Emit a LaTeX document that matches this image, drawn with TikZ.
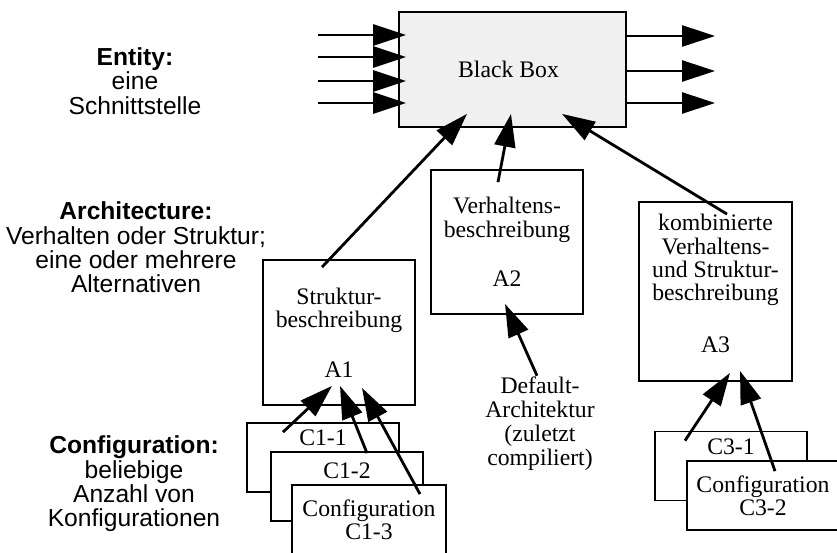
\documentclass[tikz,border=0pt]{standalone}
\usepackage{fontspec}
\setmainfont{Liberation Serif}
\setsansfont{Liberation Sans}
\usetikzlibrary{arrows.meta,calc}

\begin{document}
\begin{tikzpicture}[
  x=1bp, y=-1bp,
  box/.style={
    rectangle, draw, line width=1.8bp, fill=white,
    inner sep=0pt, align=center,
    font=\fontsize{23.8}{23.5}\selectfont},
  cfg/.style={box, minimum width=152bp, minimum height=69bp},
  cfgtop/.style={cfg, text height=16bp, text depth=#1},
  lbl/.style={align=center, font=\sffamily\fontsize{24.7}{24.5}\selectfont},
  arr/.style={line width=2.8bp, -{Triangle[length=33bp,width=21bp]}},
]
  \clip (0,0) rectangle (837,553);

  % left column
  \node[lbl] (ent)  at (135,81)    {\textbf{Entity:}\\eine\\Schnittstelle};
  \node[lbl] (arch) at (136,247.5) {\textbf{Architecture:}\\Verhalten oder Struktur;\\
                                    eine oder mehrere\\Alternativen};
  \node[lbl] (conf) at (134,484)   {\textbf{Configuration:}\\beliebige\\Anzahl von\\
                                    Konfigurationen};

  % entity
  \node[box, fill=black!6, minimum width=227bp, minimum height=115bp]
      (bb) at (512.5,69.5) {Black Box\hspace*{8bp}};

  % architectures
  \node[box, minimum width=152bp, minimum height=145bp] (A1) at (339,332.5)
      {Struktur-\\beschreibung\\[26bp]A1};
  \node[box, minimum width=152bp, minimum height=144bp] (A2) at (507,242)
      {Verhaltens-\\beschreibung\\[26bp]A2};
  \node[box, minimum width=153bp, minimum height=179bp] (A3) at (715.5,291.5)
      {kombinierte\\Verhaltens-\\und Struktur-\\beschreibung\\[28bp]A3\\[-7bp]\mbox{}};

  % configurations
  \node[cfgtop=41bp] (C11) at (323,457.5) {C1-1};
  \node[cfgtop=33bp] (C12) at (347,486.5) {C1-2};
  \node[cfg, minimum width=154bp] (C13) at (369,519.5) {Configuration\\C1-3};
  \node[cfgtop=40bp] (C31) at (731,466)   {C3-1};
  \node[cfg] (C32) at (763,495.5) {Configuration\\C3-2};

  \node[align=center, font=\fontsize{23.8}{24}\selectfont]
      (dflt) at (540,424) {Default-\\Architektur\\(zuletzt\\compiliert)};

  % ports
  \coordinate (in1)  at (318,35);
  \coordinate (in2)  at (318,57);
  \coordinate (in3)  at (318,81);
  \coordinate (in4)  at (318,103);
  \coordinate (out1) at (715,36);
  \coordinate (out2) at (715,71);
  \coordinate (out3) at (715,103);

  \draw[arr] (in1) -- ($(in1 -| bb.west)+(8,0)$);
  \draw[arr] (in2) -- ($(in2 -| bb.west)+(8,0)$);
  \draw[arr] (in3) -- ($(in3 -| bb.west)+(8,0)$);
  \draw[arr] (in4) -- ($(in4 -| bb.west)+(8,0)$);
  \draw[arr] (bb.east |- out1) -- (out1);
  \draw[arr] (bb.east |- out2) -- (out2);
  \draw[arr] (bb.east |- out3) -- (out3);

  % architecture -> entity
  \draw[arr] ($(A1.north)+(-17,8)$)  -- ($(bb.south)+(-45.5,-14)$);
  \draw[arr] ($(A2.north)+(-9,13)$)  -- ($(bb.south)+(-1.5,-14)$);
  \draw[arr] ($(A3.north)+(11.5,13)$) -- ($(bb.south)+(49.5,-14)$);

  % configuration -> architecture
  \draw[arr] ($(C11.north)+(-40,10)$) -- ($(A1.south)+(-7,-20)$);
  \draw[arr] ($(C12.north)+(20,2)$)   -- ($(A1.south)+(1,-20)$);
  \draw[arr] ($(C13.north)+(51,10)$)  -- ($(A1.south)+(23,-18)$);
  \draw[arr] ($(C31.north)+(-46,10)$) -- ($(A3.south)+(14.5,-9)$);
  \draw[arr] ($(C32.north)+(12,11)$)  -- ($(A3.south)+(24.5,-11)$);
  \draw[arr] ($(dflt.north)+(-3,2)$)  -- ($(A2.south)+(-2,-11)$);
\end{tikzpicture}
\end{document}
